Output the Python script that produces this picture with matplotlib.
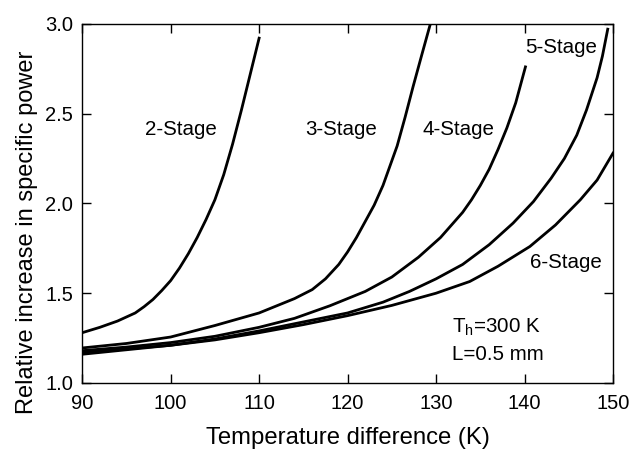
import matplotlib.pyplot as plt

plt.rcParams['font.family'] = ['Liberation Sans', 'DejaVu Sans']

# values
x2 = [90, 92, 94, 96, 97, 98, 99, 100, 101, 102, 103, 104, 105, 106, 107, 108, 109, 110]
y2 = [1.28, 1.31, 1.345, 1.39, 1.425, 1.465, 1.515, 1.57, 1.64, 1.72, 1.81, 1.91, 2.02,
      2.16, 2.33, 2.52, 2.72, 2.92]

x3 = [90, 95, 100, 105, 110, 112, 114, 116, 117.5, 119, 120, 121, 122, 123, 124,
      125.6, 126.5, 127.4, 128.4, 129.3]
y3 = [1.195, 1.22, 1.256, 1.32, 1.39, 1.43, 1.47, 1.52, 1.58, 1.66, 1.73, 1.81, 1.90,
      1.99, 2.10, 2.32, 2.48, 2.65, 2.83, 2.99]

x4 = [90, 95, 100, 105, 110, 114, 118, 122, 125, 128, 130.5, 133, 134, 135, 136, 137,
      138, 139, 140.1]
y4 = [1.18, 1.20, 1.225, 1.26, 1.31, 1.36, 1.43, 1.51, 1.59, 1.70, 1.81, 1.95, 2.02,
      2.10, 2.19, 2.30, 2.42, 2.56, 2.76]

x5 = [90, 95, 100, 105, 110, 115, 120, 124, 127, 130, 133, 136, 138.7, 141, 143,
      144.5, 145.9, 147, 148.2, 148.8, 149.4]
y5 = [1.17, 1.19, 1.21, 1.245, 1.29, 1.34, 1.39, 1.45, 1.51, 1.58, 1.66, 1.77, 1.89,
      2.01, 2.14, 2.25, 2.38, 2.52, 2.70, 2.82, 2.97]

x6 = [90, 95, 100, 105, 110, 115, 120, 125, 130, 133.8, 137, 140.6, 143.5, 146.3,
      148.2, 150]
y6 = [1.16, 1.185, 1.21, 1.24, 1.28, 1.325, 1.375, 1.432, 1.50, 1.565, 1.65, 1.76, 1.88,
      2.02, 2.13, 2.28]

labels = ['2-Stage', '3-Stage', '4-Stage', '5-Stage', '6-Stage']
label_x = [101.2, 119.3, 132.5, 144.1, 144.7]
label_y = [2.41, 2.41, 2.41, 2.87, 1.67]

fig = plt.figure(figsize=(6.32, 4.49), dpi=100)
ax = fig.add_axes([0.130, 0.147, 0.840, 0.800])

for xs, ys in [(x2, y2), (x3, y3), (x4, y4), (x5, y5), (x6, y6)]:
    ax.plot(xs, ys, color='black', lw=2, solid_joinstyle='round')

for t, lx, ly in zip(labels, label_x, label_y):
    ax.text(lx, ly, t, ha='center', va='center', fontsize=14.8)

ax.text(131.8, 1.31, r'T$_\mathregular{h}$=300 K', ha='left', va='center', fontsize=14.8)
ax.text(131.8, 1.156, 'L=0.5 mm', ha='left', va='center', fontsize=14.8)

ax.set_xlim(90, 150)
ax.set_ylim(1.0, 3.0)
ax.set_xticks([90, 100, 110, 120, 130, 140, 150])
ax.set_yticks([1.0, 1.5, 2.0, 2.5, 3.0])
ax.tick_params(direction='in', top=True, right=True, length=6.5, width=1,
               labelsize=14.5)
ax.tick_params(axis='x', pad=8)
ax.tick_params(axis='y', pad=6.5)
for s in ax.spines.values():
    s.set_linewidth(1)

ax.set_xlabel('Temperature difference (K)', fontsize=17.2)
ax.set_ylabel('Relative increase in specific power', fontsize=17)
ax.xaxis.set_label_coords(0.5, -0.122)
ax.yaxis.set_label_coords(-0.083, 0.42)

plt.savefig('out.png', dpi=100)
